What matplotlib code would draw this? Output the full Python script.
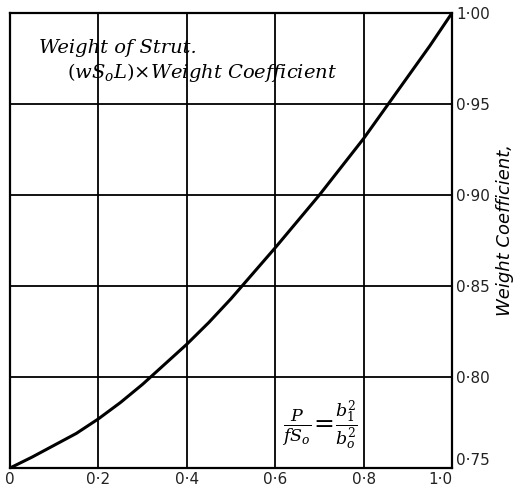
import matplotlib
matplotlib.use("Agg")
import matplotlib.pyplot as plt

# Load ratio P/(f S0) and the resulting weight coefficient
load_ratio = [0.00, 0.05, 0.10, 0.15, 0.20, 0.25, 0.30, 0.35, 0.40, 0.45, 0.50,
              0.55, 0.60, 0.65, 0.70, 0.75, 0.80, 0.85, 0.90, 0.95, 1.00]
weight_coeff = [0.750, 0.756, 0.7625, 0.769, 0.777, 0.786, 0.796, 0.807, 0.818, 0.830, 0.843,
                0.857, 0.871, 0.8855, 0.900, 0.9155, 0.931, 0.948, 0.965, 0.982, 1.000]

x_ticks = [0.0, 0.2, 0.4, 0.6, 0.8, 1.0]
x_tick_labels = ["0", "0·2", "0·4", "0·6", "0·8", "1·0"]
y_ticks = [0.75, 0.80, 0.85, 0.90, 0.95, 1.00]
y_tick_labels = ["0·75", "0·80", "0·85", "0·90", "0·95", "1·00"]

plt.rcParams["mathtext.fontset"] = "dejavuserif"

fig = plt.figure(figsize=(5.14, 4.91), dpi=100)
ax = fig.add_axes([10 / 514, 1 - 468 / 491, 442 / 514, 455 / 491])

ax.plot(load_ratio, weight_coeff, color="black", lw=2.2,
        solid_capstyle="round", solid_joinstyle="round")

ax.set_xlim(0, 1)
ax.set_ylim(0.75, 1.0)
ax.set_xticks(x_ticks)
ax.set_xticklabels(x_tick_labels)
ax.set_yticks(y_ticks)
ax.set_yticklabels(y_tick_labels)
ax.yaxis.tick_right()
ax.tick_params(axis="both", length=0, labelsize=11, colors="#222222", pad=3)
ax.grid(True, color="black", lw=1.3)
for sp in ax.spines.values():
    sp.set_linewidth(1.6)

# keep the corner labels apart
ax.get_xticklabels()[-1].set_horizontalalignment("right")
ax.get_xticklabels()[0].set_horizontalalignment("center")
ax.get_yticklabels()[0].set_verticalalignment("bottom")

fig.text(505 / 514, 1 - 230 / 491, "Weight Coefficient,", fontsize=13,
         style="italic", family="DejaVu Sans", rotation=90,
         ha="center", va="center")

ax.text(0.065, 0.981, "Weight of Strut.", fontsize=14, style="italic",
        family="DejaVu Serif", va="center", ha="left")
ax.text(0.13, 0.9675, r"$(wS_oL)$" + "\u00d7Weight Coefficient", fontsize=14,
        style="italic", family="DejaVu Serif", va="center", ha="left")

ax.text(0.70, 0.7735, r"$\frac{P}{fS_o}\!=\!\frac{b_1^2}{b_o^2}$", fontsize=18,
        va="center", ha="center")

fig.savefig("out.png", dpi=100)
